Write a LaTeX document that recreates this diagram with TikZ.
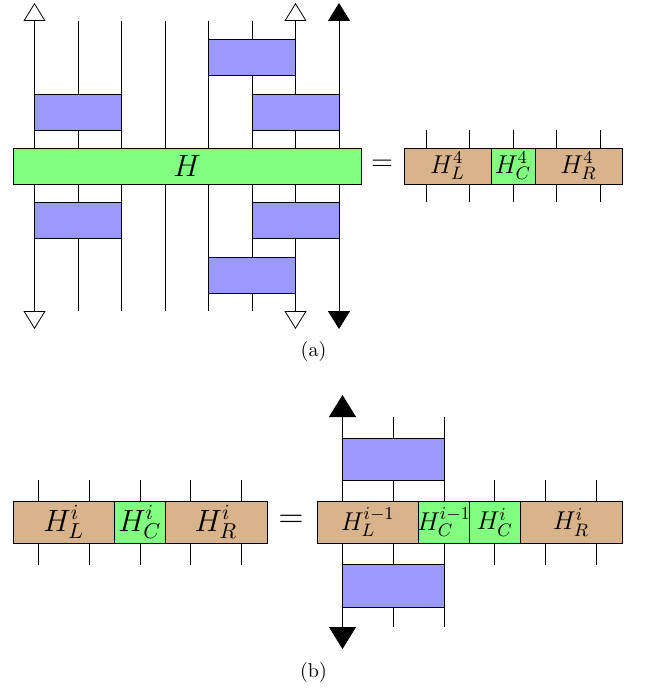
\RequirePackage{fix-cm}
\documentclass[tikz,border=0pt]{standalone}
\usetikzlibrary{arrows.meta}
\definecolor{gatebl}{RGB}{153,153,255}
\definecolor{termgr}{RGB}{128,255,128}
\definecolor{termtn}{RGB}{217,179,140}
\newcommand{\bx}[7]{%
  \node[#2,minimum width={((#5)-(#3))*0.5pt},minimum height={((#6)-(#4))*0.5pt}] (#1) at ({((#3)+(#5))/2},{((#4)+(#6))/2}) {#7};}
\newcommand{\wire}[6]{%
  \coordinate (#1t) at (#3,#4);
  \coordinate (#1b) at (#3,#5);
  \draw[#2,#6] (#1t) -- (#1b);}
\newcommand{\midsize}{\fontsize{12.9}{15}\selectfont}
\newcommand{\bigsize}{\fontsize{15.4}{18}\selectfont}
\tikzset{
  x=0.5pt,y=-0.5pt,
  cell/.style={draw=black,line width=0.4pt,inner sep=0pt,outer sep=0pt},
  gate/.style={cell,fill=gatebl},
  green term/.style={cell,fill=termgr},
  tan term/.style={cell,fill=termtn},
  leg/.style={line width=0.4pt,black},
  open ends/.style={{Triangle[open,fill=white,length=9pt,width=11pt,line width=0.4pt]}-{Triangle[open,fill=white,length=9pt,width=11pt,line width=0.4pt]}},
  solid ends/.style={{Triangle[length=9pt,width=11pt]}-{Triangle[length=9pt,width=11pt]}},
  big solid ends/.style={{Triangle[length=11pt,width=13.5pt]}-{Triangle[length=11pt,width=13.5pt]}},
  plain ends/.style={},
  caption/.style={inner sep=0pt,font=\normalsize},
}
\begin{document}
\begin{tikzpicture}
\useasboundingbox (0,0) rectangle (646,690);
% (a) wires
\wire{a1}{leg}{34.5}{3}{329}{open ends}
\wire{a2}{leg}{78}{21}{311}{plain ends}
\wire{a3}{leg}{121.5}{21}{311}{plain ends}
\wire{a4}{leg}{165}{21}{311}{plain ends}
\wire{a5}{leg}{208.5}{21}{311}{plain ends}
\wire{a6}{leg}{252}{21}{311}{plain ends}
\wire{a7}{leg}{295.5}{3}{329}{open ends}
\wire{a8}{leg}{339}{3}{329}{solid ends}
% (a) gates
\bx{g1}{gate}{208.5}{39.5}{295.5}{75.5}{}
\bx{g2}{gate}{34.5}{94}{121.5}{130}{}
\bx{g3}{gate}{252}{94}{339}{130}{}
\bx{H}{green term}{13}{148}{361}{184}{\bigsize $H$}
\bx{g4}{gate}{34.5}{202.5}{121.5}{238.5}{}
\bx{g5}{gate}{252}{202.5}{339}{238.5}{}
\bx{g6}{gate}{208.5}{257}{295.5}{293}{}
\node[inner sep=0pt] (eqa) at (382,165.5) {\Large $=$};
% (a) right side
\wire{r1}{leg}{426}{130}{202}{plain ends}
\wire{r2}{leg}{469.5}{130}{202}{plain ends}
\wire{r3}{leg}{513}{130}{202}{plain ends}
\wire{r4}{leg}{556.5}{130}{202}{plain ends}
\wire{r5}{leg}{600}{130}{202}{plain ends}
\bx{HL4}{tan term}{404}{148}{491}{184}{\midsize $H_L^4$}
\bx{HC4}{green term}{491}{148}{535}{184}{\midsize $H_C^4$}
\bx{HR4}{tan term}{535}{148}{622}{184}{\midsize $H_R^4$}
\node[caption] (capa) at (313.5,351.5) {(a)};
% (b) left side
\wire{l1}{leg}{38}{480}{564.5}{plain ends}
\wire{l2}{leg}{89}{480}{564.5}{plain ends}
\wire{l3}{leg}{140}{480}{564.5}{plain ends}
\wire{l4}{leg}{190.5}{480}{564.5}{plain ends}
\wire{l5}{leg}{241}{480}{564.5}{plain ends}
\bx{HLi}{tan term}{13}{501}{114.5}{543.5}{\bigsize $H_L^i$}
\bx{HCi}{green term}{114.5}{501}{165}{543.5}{\bigsize $H_C^i$}
\bx{HRi}{tan term}{165}{501}{267}{543.5}{\bigsize $H_R^i$}
\node[inner sep=0pt] (eqb) at (291,521) {\LARGE $=$};
% (b) right side
\wire{b1}{leg}{342.5}{395}{649}{big solid ends}
\wire{b2}{leg}{393.5}{417}{627}{plain ends}
\wire{b3}{leg}{444}{417}{627}{plain ends}
\wire{b4}{leg}{494.5}{480}{564.5}{plain ends}
\wire{b5}{leg}{545}{480}{564.5}{plain ends}
\wire{b6}{leg}{596}{480}{564.5}{plain ends}
\bx{g7}{gate}{342.5}{438}{444}{480}{}
\bx{g8}{gate}{342.5}{564.5}{444}{607}{}
\bx{HLm}{tan term}{317}{501}{418.5}{543.5}{\midsize $H_L^{i-1}$}
\bx{HCm}{green term}{418.5}{501}{469.5}{543.5}{\makebox[0pt][c]{\midsize $H_C^{i-1}$}}
\bx{HCn}{green term}{469.5}{501}{520}{543.5}{\midsize $H_C^i$}
\bx{HRn}{tan term}{520}{501}{622}{543.5}{\midsize $H_R^i$}
\node[caption] (capb) at (313.5,672.5) {(b)};
\end{tikzpicture}
\end{document}
